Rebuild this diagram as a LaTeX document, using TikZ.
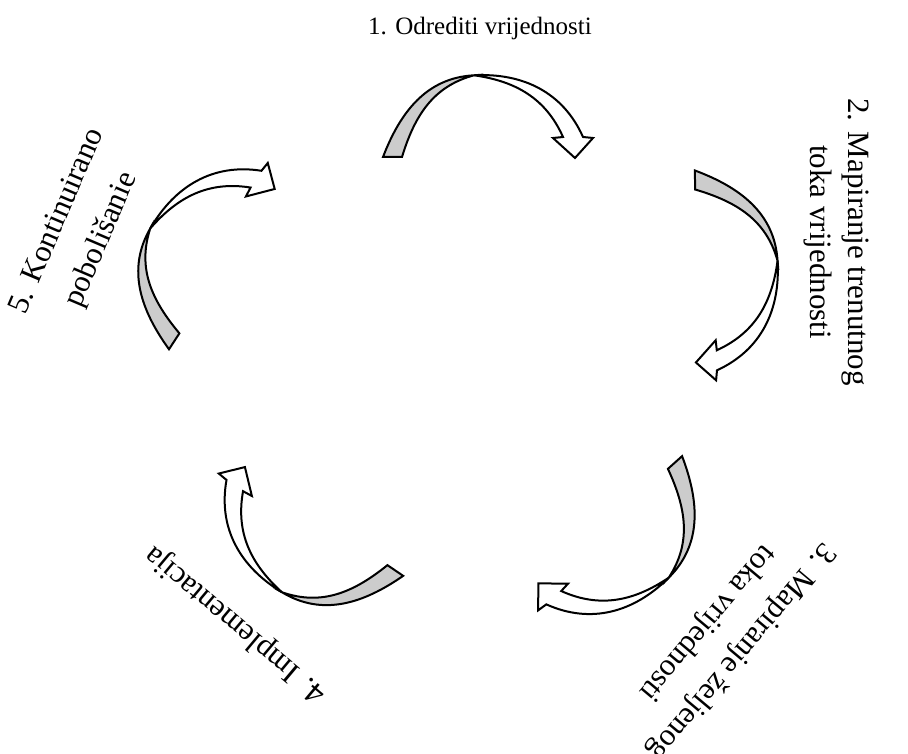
\documentclass[tikz,border=0pt]{standalone}
\usepackage{fontspec}
\setmainfont{Liberation Serif}
\usepackage{tikz}
\usetikzlibrary{positioning}

\tikzset{
  curvarrow/.pic={
    % back side of the band (tail)
    \filldraw[backface] (-9.5,0) to[out=69,in=183] (81.5,81.7) to[out=195,in=73] (9.5,0) -- cycle;
    % front side with the head
    \filldraw[frontface] (81.5,81.7) to[out=3,in=114] (190.5,20) -- (200.5,19) -- (182.5,-1)
      -- (160.5,19) -- (170.5,20) to[out=114,in=-8] (81.5,81.7) -- cycle;
  }
}

\begin{document}
\begin{tikzpicture}[
    x=1pt, y=1pt,
    backface/.style={fill=black!20, draw=black, line width=2pt},
    frontface/.style={fill=white, draw=black, line width=2pt},
    lbl/.style={font=\fontsize{31}{38}\selectfont, align=center, inner sep=0pt}
]
\useasboundingbox (0,0) rectangle (908,753);

\foreach \i/\x/\y/\r in {1/392.5/596/0, 2/695/573/-89.4, 3/675/290.5/-138.2, 4/395.3/182.5/145.8, 5/174.2/411.7/56.9}
  \pic[rotate=\r] (a\i) at (\x,\y) {curvarrow};

\node[lbl, font=\fontsize{25}{30}\selectfont] (l1) at (480,725) {1. Odrediti vrijednosti};
\node[lbl, rotate=-90] (l2) at (836,511) {2. Mapiranje trenutnog\\toka vrijednosti};
\node[lbl, rotate=-130, font=\fontsize{31}{45}\selectfont] (l3) at (724,116) {3. Mapiranje željenog\\toka vrijednosti};
\node[lbl, rotate=140] (l4) at (236,129) {4. Implementacija};
\node[lbl, rotate=67, font=\fontsize{31}{48}\selectfont] (l5) at (80,522) {5. Kontinuirano\\pobolišanie};
\end{tikzpicture}
\end{document}
